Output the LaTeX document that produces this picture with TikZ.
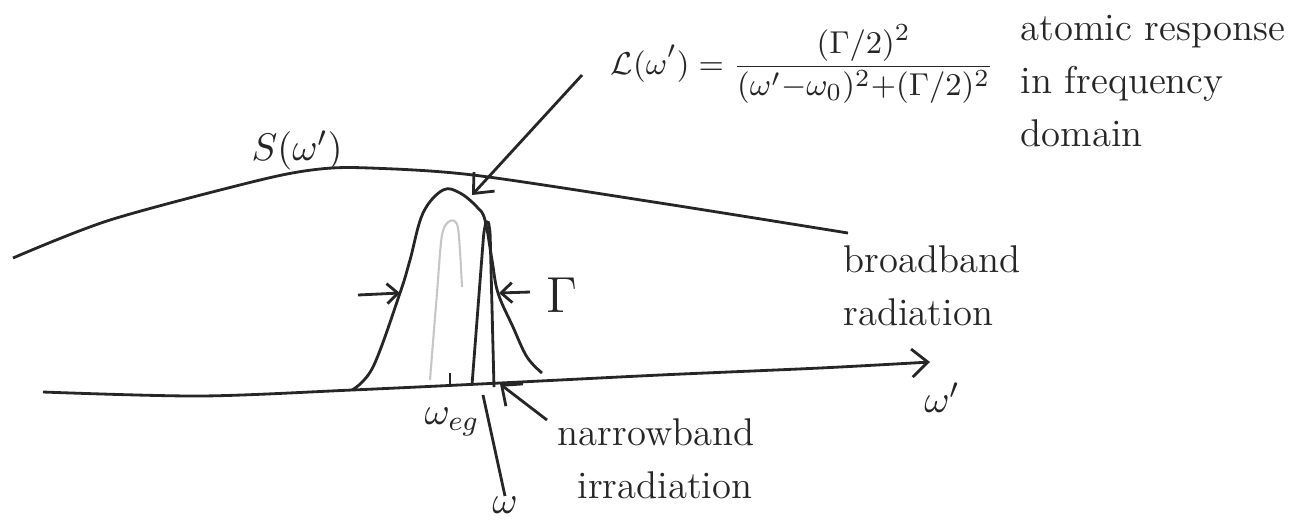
\documentclass[tikz,border=0pt]{standalone}
\usepackage{amsmath,amssymb}
\usepackage{tikz}
\usetikzlibrary{arrows.meta,calc,positioning}

\begin{document}
\begin{tikzpicture}[x=0.01cm,y=-0.01cm,>={Straight Barb[length=1.6mm,width=2.8mm]},
  curve/.style={line width=0.8pt,black!85},
  txt/.style={inner sep=0pt,text=black!85,font=\fontsize{11}{15}\selectfont,align=left}]
\useasboundingbox (0,0) rectangle (1314,520);

% --- frequency axis and broadband spectrum ---
\draw[curve,->] plot[smooth] coordinates {(43,392) (200,396) (352,390) (500,383)
  (660,375) (820,368) (930,362)};
\node[txt] (wprime) at (942,398) {$\omega'$};
\draw[curve] plot[smooth] coordinates {(13,258) (110,220) (260,180) (320,169)
  (370,168) (473,175) (660,203) (848,233)};
\node[txt] (slbl) at (297,150) {$S(\omega')$};
\node[txt,anchor=north west] (bb) at (843,245) {broadband\\radiation};

% --- atomic Lorentzian and narrow line ---
\draw[curve] plot[smooth,tension=0.6] coordinates {(352,390) (373,367) (400,293)
  (410,260) (423,213) (443,190) (460,193) (477,207) (485,220) (492,260)
  (498,293) (513,327) (527,357) (542,373)};
\draw[gray!45,line width=0.6pt] plot[smooth] coordinates {(430,380) (437,293)
  (442,235) (450,221) (458,228) (462,287)};
\draw[curve,rounded corners=2pt] (472,385) -- (484,230) -- (487,218) -- (490,228) -- (494,387);

% --- formula and its arrow ---
\node[txt,anchor=west,font=\fontsize{9.5}{12}\selectfont] (lor) at (610,64)
  {$\displaystyle \mathcal{L}(\omega') = \frac{(\Gamma/2)^2}{(\omega'{-}\omega_0)^2{+}(\Gamma/2)^2}$};
\node[txt,anchor=north west] (atom) at (1020,15) {atomic response\\in frequency\\domain};
\coordinate (lorfoot) at (582,75);
\coordinate (peaktop) at (472,195);
\draw[curve,->] (lorfoot) -- (peaktop);

% --- width markers ---
\coordinate (wl0) at (358,295); \coordinate (wl1) at (400,293);
\coordinate (wr0) at (530,292); \coordinate (wr1) at (499,293);
\draw[curve,->,>={Straight Barb[length=1.1mm,width=2mm]}] (wl0) -- (wl1);
\draw[curve,->,>={Straight Barb[length=1.1mm,width=2mm]}] (wr0) -- (wr1);
\node[txt,font=\Large] (gam) at (562,295) {$\Gamma$};

% --- labels below the axis ---
\draw[curve] (450,373) -- (450,386);
\node[txt] (weg) at (452,422) {$\omega_{eg}$};
\node[txt] (om) at (505,505) {$\omega$};
\coordinate (wline) at (483,395);
\draw[curve] (om.north) -- (wline);
\node[txt,anchor=north west] (nb) at (557,418) {narrowband\\\hspace*{2mm}irradiation};
\coordinate (nbtip) at (500,384);
\draw[curve,->] ($(nb.north west)+(-10,2)$) -- (nbtip);

\end{tikzpicture}
\end{document}
